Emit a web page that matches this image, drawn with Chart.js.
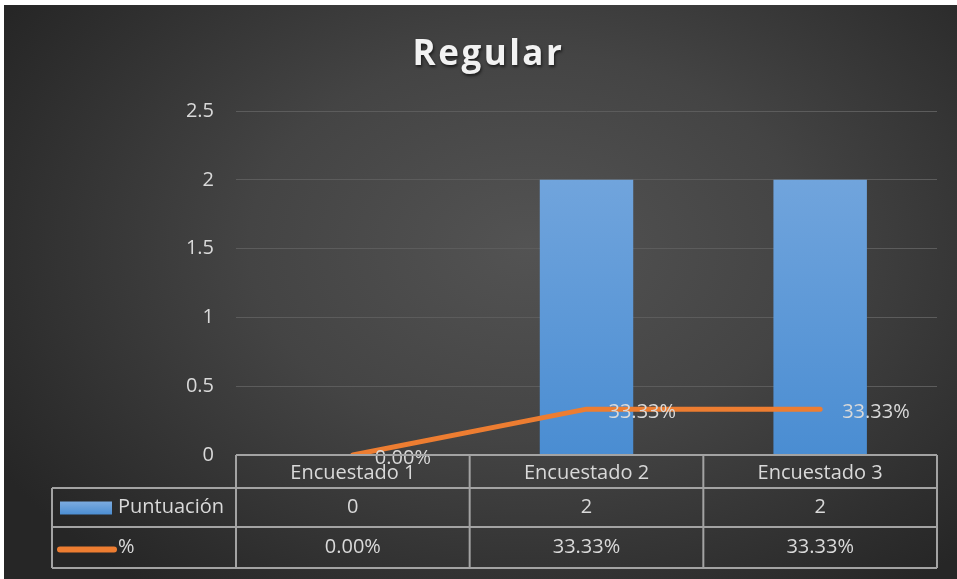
<!DOCTYPE html>
<html>
<head>
<meta charset="utf-8">
<script src="https://cdn.jsdelivr.net/npm/chart.js@4.4.1/dist/chart.umd.min.js"></script>
<style>
  html, body { margin: 0; padding: 0; background: #fff; }
  #wrap {
    position: absolute; left: 4px; top: 5px; width: 953px; height: 574px;
    background: radial-gradient(ellipse 65% 75% at 55% 42%, #535353 0%, #444 45%, #2e2e2e 85%, #262626 100%);
  }
</style>
</head>
<body>
<div id="wrap"><canvas id="myChart" width="953" height="574"></canvas></div>
<script>
const titleText = 'Regular';
const categories = ['Encuestado 1', 'Encuestado 2', 'Encuestado 3'];
const puntuacion = [0, 2, 2];
const porcentaje = [0, 0.3333, 0.3333];
const yTicks = [0, 0.5, 1, 1.5, 2, 2.5];

const textColor = '#d9d9d9';
const lineColor = '#ed7d31';
const tableLine = '#a3a3a3';
const fontFamily = '"Open Sans", Lato, sans-serif';
const fontSize = 20;

function pctLabel(v) {
    return (v * 100).toFixed(2) + '%';
}

// blue vertical gradient for the bars
function barFill(context) {
    const chart = context.chart;
    const area = chart.chartArea;
    if (!area) return '#5b9bd5';
    const g = chart.ctx.createLinearGradient(0, area.top, 0, area.bottom);
    g.addColorStop(0, '#7aaadf');
    g.addColorStop(1, '#4a8dd2');
    return g;
}

// title with a soft shadow and wide letter spacing
const titlePlugin = {
    id: 'titleText',
    afterDraw(chart) {
        const ctx = chart.ctx;
        ctx.save();
        ctx.font = 'bold 35px ' + fontFamily;
        ctx.letterSpacing = '2.5px';
        ctx.fillStyle = '#f2f2f2';
        ctx.textAlign = 'center';
        ctx.textBaseline = 'middle';
        ctx.shadowColor = 'rgba(0,0,0,0.6)';
        ctx.shadowOffsetX = 1;
        ctx.shadowOffsetY = 2;
        ctx.shadowBlur = 3;
        ctx.fillText(titleText, chart.width / 2 + 8, 50);
        ctx.restore();
    }
};

// percentage labels to the right of the line points
const pointLabels = {
    id: 'pointLabels',
    afterDatasetsDraw(chart) {
        const ctx = chart.ctx;
        const meta = chart.getDatasetMeta(1);
        ctx.save();
        ctx.font = fontSize + 'px ' + fontFamily;
        ctx.fillStyle = textColor;
        ctx.textAlign = 'left';
        ctx.textBaseline = 'middle';
        meta.data.forEach((pt, i) => {
            ctx.fillText(pctLabel(porcentaje[i]), pt.x + 22, pt.y + 3);
        });
        ctx.restore();
    }
};

// data table under the plot
const dataTable = {
    id: 'dataTable',
    afterDraw(chart) {
        const ctx = chart.ctx;
        const area = chart.chartArea;
        const x = chart.scales.x;
        const left = area.left, right = area.right;
        const colW = (right - left) / categories.length;
        const tableLeft = 48;
        const r0 = area.bottom, r1 = r0 + 33, r2 = r1 + 39, r3 = r2 + 41;

        ctx.save();
        ctx.strokeStyle = tableLine;
        ctx.lineWidth = 2;
        ctx.beginPath();
        // horizontal lines
        ctx.moveTo(left, r0); ctx.lineTo(right, r0);
        ctx.moveTo(tableLeft, r1); ctx.lineTo(right, r1);
        ctx.moveTo(tableLeft, r2); ctx.lineTo(right, r2);
        ctx.moveTo(tableLeft, r3); ctx.lineTo(right, r3);
        // vertical lines
        ctx.moveTo(tableLeft, r1); ctx.lineTo(tableLeft, r3);
        for (let i = 0; i <= categories.length; i++) {
            const cx = left + i * colW;
            ctx.moveTo(cx, r0); ctx.lineTo(cx, r3);
        }
        ctx.stroke();

        ctx.font = fontSize + 'px ' + fontFamily;
        ctx.fillStyle = textColor;
        ctx.textAlign = 'center';
        ctx.textBaseline = 'middle';
        categories.forEach((c, i) => {
            const cx = x.getPixelForValue(i);
            ctx.fillText(c, cx, (r0 + r1) / 2 + 2);
            ctx.fillText(String(puntuacion[i]), cx, (r1 + r2) / 2);
            ctx.fillText(pctLabel(porcentaje[i]), cx, (r2 + r3) / 2);
        });

        // legend keys
        const g = ctx.createLinearGradient(0, r1 + 14, 0, r1 + 27);
        g.addColorStop(0, '#7aaadf');
        g.addColorStop(1, '#4a8dd2');
        ctx.fillStyle = g;
        ctx.fillRect(56, (r1 + r2) / 2 - 6, 52, 13);
        ctx.strokeStyle = lineColor;
        ctx.lineWidth = 6;
        ctx.lineCap = 'round';
        ctx.beginPath();
        ctx.moveTo(56, (r2 + r3) / 2 + 2);
        ctx.lineTo(110, (r2 + r3) / 2 + 2);
        ctx.stroke();

        ctx.fillStyle = textColor;
        ctx.textAlign = 'left';
        ctx.fillText('Puntuación', 114, (r1 + r2) / 2);
        ctx.fillText('%', 114, (r2 + r3) / 2);
        ctx.restore();
    }
};

document.addEventListener('DOMContentLoaded', function() {
    const ctx = document.getElementById('myChart').getContext('2d');

    new Chart(ctx, {
        data: {
            labels: categories,
            datasets: [{
                type: 'bar',
                label: 'Puntuación',
                data: puntuacion,
                backgroundColor: barFill,
                borderWidth: 0,
                barPercentage: 0.4,
                categoryPercentage: 1,
                order: 1
            }, {
                type: 'line',
                label: '%',
                data: porcentaje,
                borderColor: lineColor,
                borderWidth: 5,
                borderCapStyle: 'round',
                borderJoinStyle: 'round',
                pointRadius: 0,
                tension: 0,
                order: 0
            }]
        },
        options: {
            responsive: false,
            animation: false,
            layout: {
                padding: { top: 106, right: 20, bottom: 124, left: 0 }
            },
            plugins: {
                legend: { display: false },
                title: { display: false },
                tooltip: { enabled: false }
            },
            scales: {
                x: {
                    display: false,
                    offset: true
                },
                y: {
                    min: 0,
                    max: 2.5,
                    afterBuildTicks(scale) {
                        scale.ticks = yTicks.map(v => ({ value: v }));
                    },
                    afterFit(scale) {
                        scale.width = 232;
                    },
                    ticks: {
                        color: textColor,
                        padding: 22,
                        font: { family: fontFamily, size: fontSize },
                        callback: v => String(v)
                    },
                    grid: {
                        color: '#5c5c5c',
                        lineWidth: 1,
                        drawTicks: false
                    },
                    border: { display: false }
                }
            }
        },
        plugins: [titlePlugin, pointLabels, dataTable]
    });
});
</script>
</body>
</html>
